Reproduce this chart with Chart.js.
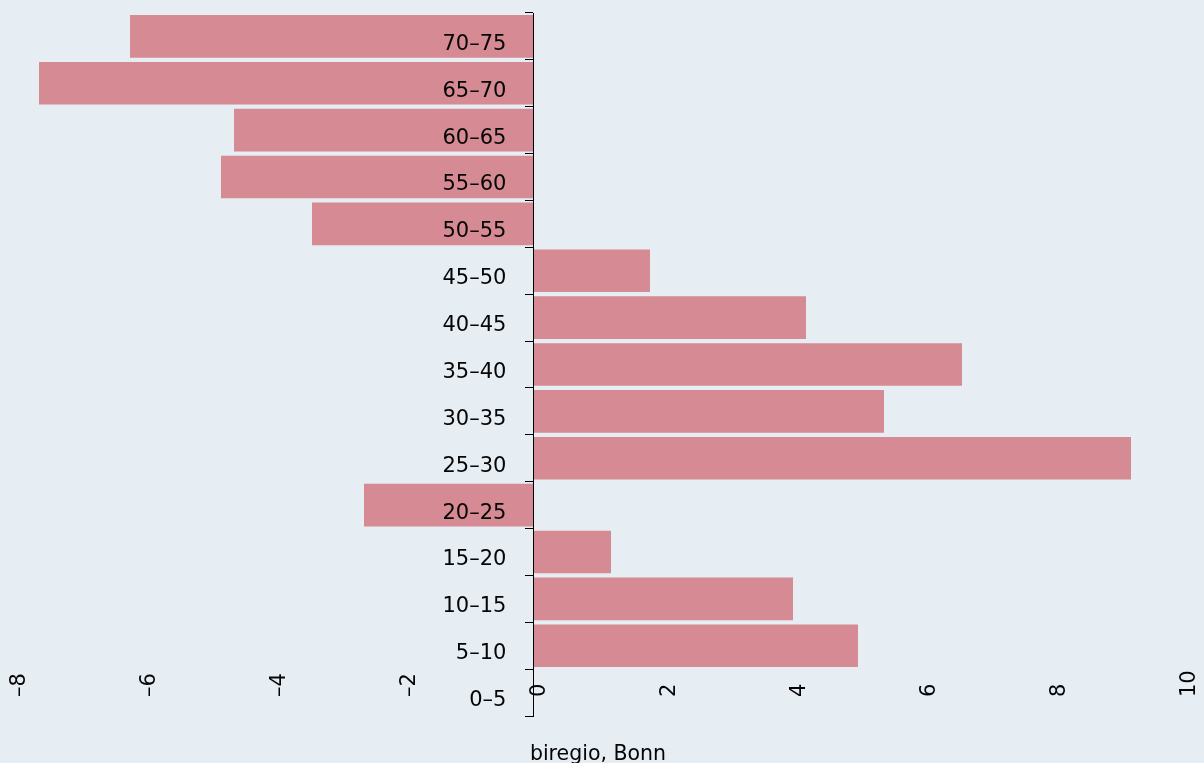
<!DOCTYPE html>
<html>
<head>
<meta charset="utf-8">
<script src="https://cdn.jsdelivr.net/npm/chart.js@4/dist/chart.umd.min.js"></script>
<style>
  html, body { margin: 0; padding: 0; background: #e6edf3; }
  canvas { display: block; }
</style>
</head>
<body>
<canvas id="c" width="1204" height="763"></canvas>
<script>
// Age groups (bottom to top)
const categories = ['0–5','5–10','10–15','15–20','20–25','25–30','30–35','35–40','40–45','45–50','50–55','55–60','60–65','65–70','70–75'];
// Values
const values = [0, 5.0, 4.0, 1.2, -2.6, 9.2, 5.4, 6.6, 4.2, 1.8, -3.4, -4.8, -4.6, -7.6, -6.2];
// X axis tick labels
const xTickValues = [-8, -6, -4, -2, 0, 2, 4, 6, 8, 10];
const xTickLabels = ['–8', '–6', '–4', '–2', '0', '2', '4', '6', '8', '10'];
const xTitle = 'biregio, Bonn';

const FONT = '"DejaVu Sans", sans-serif';
const TEXT = '#050505';

const xTickLabelPlugin = {
  id: 'xTickLabels',
  afterDraw(chart) {
    const scale = chart.scales.x;
    const ctx = chart.ctx;
    ctx.save();
    ctx.font = '21px ' + FONT;
    ctx.fillStyle = TEXT;
    ctx.textAlign = 'left';
    ctx.textBaseline = 'middle';
    scale.ticks.forEach((t) => {
      const idx = xTickValues.indexOf(t.value);
      if (idx < 0) return;
      const px = scale.getPixelForValue(t.value);
      ctx.save();
      ctx.translate(px + 6.5, 697);
      ctx.rotate(-Math.PI / 2);
      ctx.fillText(xTickLabels[idx], 0, 0);
      ctx.restore();
    });
    ctx.restore();
  }
};

function zeroPadding(scale) {
  scale.paddingTop = 0;
  scale.paddingBottom = 0;
  scale.paddingLeft = 0;
  scale.paddingRight = 0;
}

new Chart(document.getElementById('c'), {
  type: 'bar',
  data: {
    labels: categories,
    datasets: [{
      data: values,
      yAxisID: 'y',
      backgroundColor: '#d68a94',
      borderWidth: 0,
      barPercentage: 0.91,
      categoryPercentage: 1.0
    }]
  },
  options: {
    indexAxis: 'y',
    responsive: false,
    animation: false,
    devicePixelRatio: 1,
    layout: { padding: { left: 13, right: 21, top: 13, bottom: 0 } },
    plugins: { legend: { display: false }, tooltip: { enabled: false } },
    scales: {
      y: {
        type: 'category',
        axis: 'y',
        reverse: true,
        position: { x: 0 },
        offset: true,
        grid: {
          display: true,
          offset: true,
          drawOnChartArea: false,
          drawTicks: true,
          tickLength: 8,
          tickColor: '#000000',
          tickWidth: 1,
          z: 1
        },
        border: { display: true, color: '#000000', width: 1, z: 1 },
        ticks: { display: false, autoSkip: false },
        afterFit: zeroPadding
      },
      yl: {
        type: 'category',
        axis: 'y',
        reverse: true,
        position: { x: -0.41 },
        offset: true,
        grid: { display: false, drawTicks: false },
        border: { display: false },
        ticks: {
          color: TEXT,
          font: { family: FONT, size: 21 },
          labelOffset: 8,
          autoSkip: false,
          z: 2
        },
        afterFit: zeroPadding
      },
      x: {
        type: 'linear',
        min: -8,
        max: 10,
        position: 'bottom',
        ticks: { display: false, stepSize: 2 },
        grid: { display: false, drawTicks: false },
        border: { display: false },
        title: {
          display: true,
          text: xTitle,
          color: TEXT,
          font: { family: FONT, size: 20.5 },
          padding: { top: 26.4, bottom: -4 }
        }
      }
    }
  },
  plugins: [xTickLabelPlugin]
});
</script>
</body>
</html>
